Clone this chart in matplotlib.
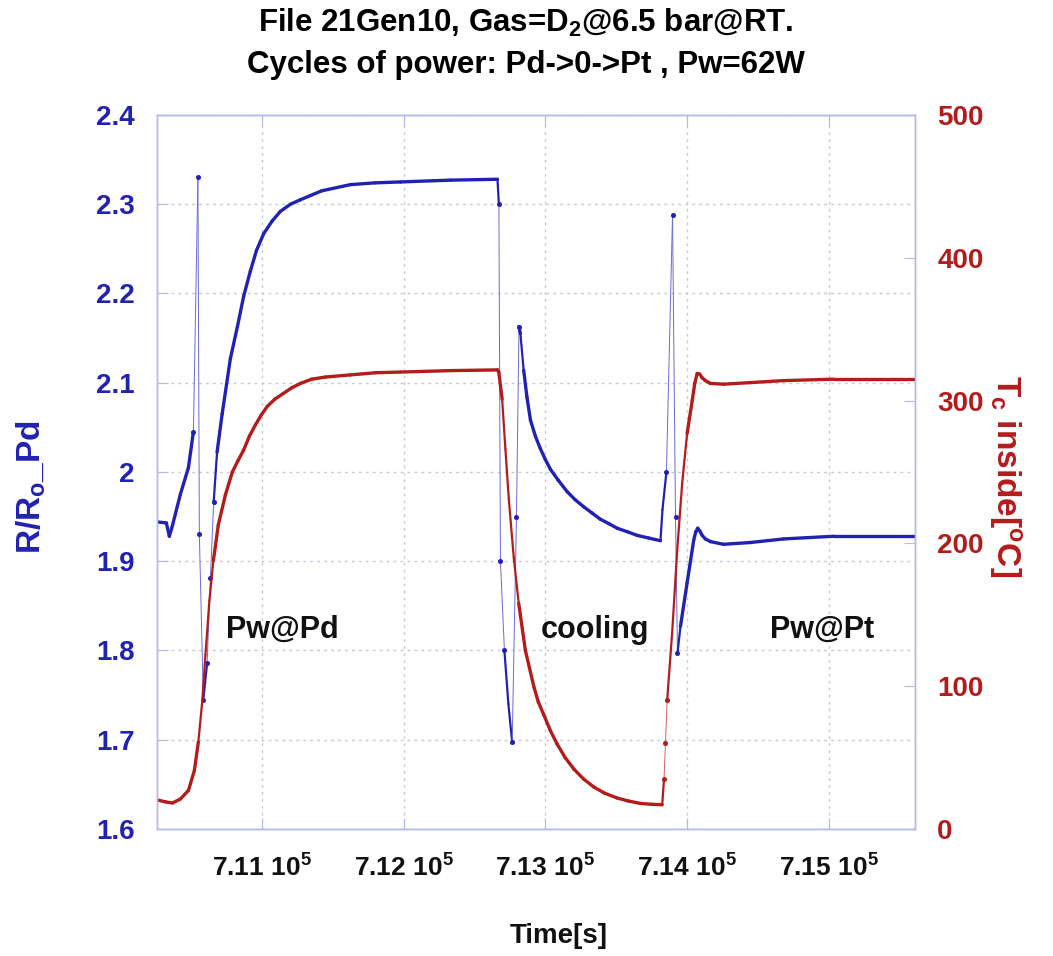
import numpy as np
import matplotlib
matplotlib.use('Agg')
import matplotlib.pyplot as plt
from matplotlib.collections import LineCollection
from matplotlib.ticker import MultipleLocator, FixedLocator, FuncFormatter

plt.rcParams['font.family'] = ['Liberation Sans', 'DejaVu Sans']
plt.rcParams['font.weight'] = 'bold'
plt.rcParams['axes.labelweight'] = 'bold'
plt.rcParams['mathtext.fontset'] = 'custom'
plt.rcParams['mathtext.rm'] = 'Liberation Sans:bold'
plt.rcParams['mathtext.bf'] = 'Liberation Sans:bold'
plt.rcParams['mathtext.it'] = 'Liberation Sans:bold'

# R/Ro of the Pd wire (left axis)
t_ratio = [710261, 710324, 710345, 710367, 710423, 710480, 710515, 710547,
           710557, 710585, 710612, 710635, 710658, 710682, 710718, 710776,
           710826, 710870, 710917, 710960, 711011, 711070, 711129, 711200,
           711270, 711420, 711624, 711800, 711977, 712330, 712662, 712672,
           712683, 712711, 712739, 712766, 712796, 712814, 712824, 712847,
           712870, 712895, 712930, 712965, 713000, 713036, 713090, 713154,
           713210, 713271, 713330, 713389, 713450, 713507, 713580, 713648,
           713730, 713813, 713827, 713855, 713898, 713919, 713933, 713954,
           714001, 714048, 714062, 714076, 714090, 714107, 714130, 714166,
           714258, 714448, 714681, 715035, 715610]
ratio = [1.944, 1.943, 1.928, 1.940, 1.975, 2.005, 2.045, 2.330,
         1.930, 1.745, 1.786, 1.881, 1.966, 2.022, 2.065, 2.127,
         2.163, 2.197, 2.225, 2.248, 2.267, 2.281, 2.292, 2.300,
         2.305, 2.315, 2.322, 2.324, 2.325, 2.327, 2.328, 2.300,
         1.900, 1.800, 1.740, 1.697, 1.950, 2.163, 2.155, 2.114,
         2.084, 2.058, 2.040, 2.026, 2.014, 2.003, 1.991, 1.978,
         1.969, 1.961, 1.954, 1.947, 1.942, 1.937, 1.933, 1.929,
         1.926, 1.923, 1.958, 2.000, 2.288, 1.950, 1.797, 1.827,
         1.876, 1.924, 1.933, 1.937, 1.934, 1.929, 1.925, 1.922,
         1.919, 1.921, 1.925, 1.928, 1.928]

# temperature inside the cell (right axis)
t_temp = [710261, 710317, 710367, 710423, 710480, 710522, 710550, 710578,
          710600, 710628, 710656, 710691, 710741, 710790, 710830, 710868,
          710910, 710953, 710995, 711037, 711090, 711150, 711210, 711270,
          711350, 711447, 711624, 711800, 711977, 712330, 712662, 712671,
          712695, 712718, 712742, 712777, 712812, 712859, 712918, 712950,
          712989, 713035, 713083, 713140, 713201, 713270, 713342, 713420,
          713507, 713590, 713672, 713750, 713825, 713838, 713848, 713860,
          713895, 713931, 713966, 714001, 714037, 714055, 714072, 714090,
          714107, 714130, 714166, 714258, 714448, 714681, 715035, 715610]
temp = [20.3, 19.0, 18.2, 21.0, 27.0, 41.0, 61.0, 90.0,
        122.0, 160.0, 188.0, 213.0, 234.0, 250.0, 258.0, 265.0,
        275.0, 283.0, 290.0, 296.0, 301.0, 305.0, 309.0, 312.0,
        315.0, 316.5, 318.0, 319.5, 320.0, 321.0, 321.5, 320.0,
        301.0, 266.0, 231.0, 190.0, 158.0, 125.0, 100.0, 89.0,
        80.0, 69.0, 59.5, 50.0, 42.0, 35.0, 29.4, 25.0,
        21.7, 19.5, 17.9, 17.3, 17.0, 35.0, 60.0, 90.0,
        137.0, 195.0, 242.0, 277.0, 300.0, 312.0, 319.0, 318.5,
        316.0, 314.0, 312.0, 311.5, 312.6, 314.0, 315.0, 315.0]

x_ticks = [711000, 712000, 713000, 714000, 715000]
x_tick_labels = [r'7.11 10$^{5}$', r'7.12 10$^{5}$', r'7.13 10$^{5}$',
                 r'7.14 10$^{5}$', r'7.15 10$^{5}$']
phase_names = ['Pw@Pd', 'cooling', 'Pw@Pt']
phase_times = [711140, 713353, 714955]

BLUE = '#2222b2'
BLUE_THIN = '#6a6ad4'
RED = '#b41c1c'
RED_THIN = '#d06060'
AXCOL = '#b4b8e4'


def draw_trace(ax, t, v, color, thin_color):
    t = np.asarray(t, float)
    v = np.asarray(v, float)
    pix = ax.transData.transform(np.column_stack([t, v]))
    d = np.diff(pix, axis=0)
    slope = np.abs(d[:, 1]) / np.maximum(np.abs(d[:, 0]), 1e-6)
    steep = slope > 20
    widths = np.where(steep, 0.7, np.where(slope > 9, 1.6, 2.4))
    p = np.column_stack([t, v])
    segs = np.stack([p[:-1], p[1:]], axis=1)
    lc = LineCollection(segs, linewidths=widths,
                        colors=[thin_color if s else color for s in steep],
                        capstyle='round', joinstyle='round')
    ax.add_collection(lc)
    # dots only where the trace moves fast (sparse samples)
    near = np.zeros(len(t), bool)
    near[:-1] |= steep
    near[1:] |= steep
    ax.plot(t[near], v[near], ls='none', marker='o', ms=2.6, color=color)


fig = plt.figure(figsize=(10.53, 9.56), dpi=100)
ax = fig.add_axes([157 / 1053, 1 - 829 / 956, 758 / 1053, 714 / 956])
ax2 = ax.twinx()

ax.set_xlim(710258, 715610)
ax.set_ylim(1.6, 2.4)
ax2.set_ylim(0, 500)

ax.set_axisbelow(True)
ax.grid(True, ls=(0, (2, 3)), color='#c8c8dc', lw=1)

ax.xaxis.set_major_locator(FixedLocator(x_ticks))
ax.set_xticklabels(x_tick_labels)
ax.yaxis.set_major_locator(MultipleLocator(0.1))
ax.yaxis.set_major_formatter(FuncFormatter(lambda v, p: f'{round(v, 1):g}'))
ax2.yaxis.set_major_locator(MultipleLocator(100))

ax.tick_params(axis='x', direction='in', length=8, color=AXCOL, top=True,
               labelsize=19, pad=18, labelcolor='#111111')
ax.tick_params(axis='y', direction='in', length=8, color=AXCOL,
               labelsize=20, pad=16, labelcolor=BLUE)
ax2.tick_params(axis='y', direction='in', length=8, color=AXCOL,
                labelsize=20, pad=16, labelcolor=RED)
for a in (ax, ax2):
    for s in a.spines.values():
        s.set_color(AXCOL)
        s.set_linewidth(1)

draw_trace(ax, t_ratio, ratio, BLUE, BLUE_THIN)
draw_trace(ax2, t_temp, temp, RED, RED_THIN)

for name, tp in zip(phase_names, phase_times):
    ax.text(tp, 1.823, name, fontsize=22, fontweight='bold', color='#111111',
            ha='center', va='center')

ax.set_ylabel(r'R/R$_{o}$_Pd', fontsize=24, color=BLUE, va='center')
ax.yaxis.set_label_coords(-0.166, 0.479)
ax2.set_ylabel(r'T$_{c}$ inside[$^{o}$C]', fontsize=24, color=RED,
               rotation=270, va='center')
ax2.yaxis.set_label_coords(1.119, 0.494)
ax.set_xlabel('Time[s]', fontsize=20, color='#111111', va='center')
ax.xaxis.set_label_coords((559 - 157) / 758, -(936 - 829) / 714)

fig.text(526 / 1053, 1 - 23 / 956, r'File 21Gen10, Gas=D$_{2}$@6.5 bar@RT.',
         fontsize=22.5, ha='center', va='center')
fig.text(526 / 1053, 1 - 65 / 956, 'Cycles of power: Pd->0->Pt , Pw=62W',
         fontsize=22.5, ha='center', va='center')

fig.savefig('out.png', dpi=100)
